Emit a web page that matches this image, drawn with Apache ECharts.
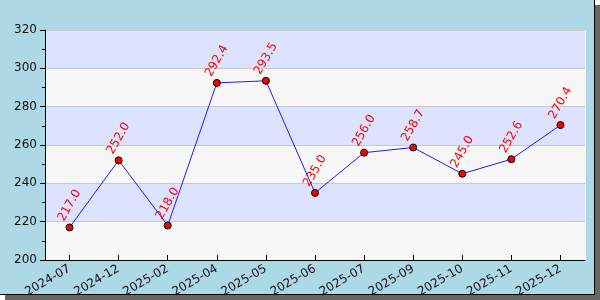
<!DOCTYPE html>
<html>
<head>
<meta charset="utf-8">
<script src="https://cdn.jsdelivr.net/npm/echarts@6/dist/echarts.min.js"></script>
<style>
html,body{margin:0;padding:0;background:#ffffff;}
#chart{width:600px;height:300px;}
</style>
</head>
<body>
<div id="chart"></div>
<script>
const categories = ['2024-07','2024-12','2025-02','2025-04','2025-05','2025-06','2025-07','2025-09','2025-10','2025-11','2025-12'];
const values = [217.0, 252.0, 218.0, 292.4, 293.5, 235.0, 256.0, 258.7, 245.0, 252.6, 270.4];
const yMin = 200, yMax = 320, yStep = 20;

const chart = echarts.init(document.getElementById('chart'), null, {renderer:'canvas'});
const font = 'DejaVu Sans';
chart.setOption({
  animation: false,
  backgroundColor: 'transparent',
  graphic: [
    {type:'rect', z:-10, zlevel:0, silent:true, shape:{x:5,y:5,width:595,height:295}, style:{fill:'#666666'}},
    {type:'rect', z:-9, zlevel:0, silent:true, shape:{x:0,y:0,width:595,height:295}, style:{fill:'#000000'}},
    {type:'rect', z:-8, zlevel:0, silent:true, shape:{x:0,y:0,width:594,height:294}, style:{fill:'#add8e6'}},
    {type:'rect', z:-7, zlevel:0, silent:true, shape:{x:45,y:30,width:541,height:230}, style:{fill:'#f7f7f7'}}
  ],
  grid: {left:45, right:15, top:30, bottom:40, containLabel:false},
  xAxis: {
    type:'category',
    data: categories,
    boundaryGap: true,
    axisLine:{show:true, lineStyle:{color:'#000', width:1}},
    axisTick:{show:true, inside:true, length:5, alignWithLabel:true, lineStyle:{color:'#000'}},
    axisLabel:{rotate:30, fontSize:12, fontFamily:font, color:'#111', margin:8, interval:0},
    splitLine:{show:false}
  },
  yAxis: {
    type:'value',
    min:yMin, max:yMax, interval:yStep,
    axisLine:{show:true, lineStyle:{color:'#000', width:1}},
    axisTick:{show:true, inside:false, length:5, lineStyle:{color:'#000'}},
    minorTick:{show:true, splitNumber:2, length:3, lineStyle:{color:'#000'}},
    axisLabel:{fontSize:12, fontFamily:font, color:'#111', margin:8},
    splitLine:{show:true, lineStyle:{color:'#c8c8c8', width:1}},
    splitArea:{show:true, areaStyle:{color:['#f7f7f7','#dde3ff']}}
  },
  series: [{
    type:'line',
    data: values,
    symbol:'circle',
    symbolSize:7,
    itemStyle:{color:'#ff0000', borderColor:'#000', borderWidth:1},
    lineStyle:{color:'#1a1aff', width:1},
    label:{
      show:true, position:'top', distance:18, rotate:60,
      align:'center', verticalAlign:'middle',
      fontSize:12, fontFamily:font, color:'#ff0000',
      formatter: p => p.value.toFixed(1)
    },
    z:3
  }]
});
</script>
</body>
</html>
